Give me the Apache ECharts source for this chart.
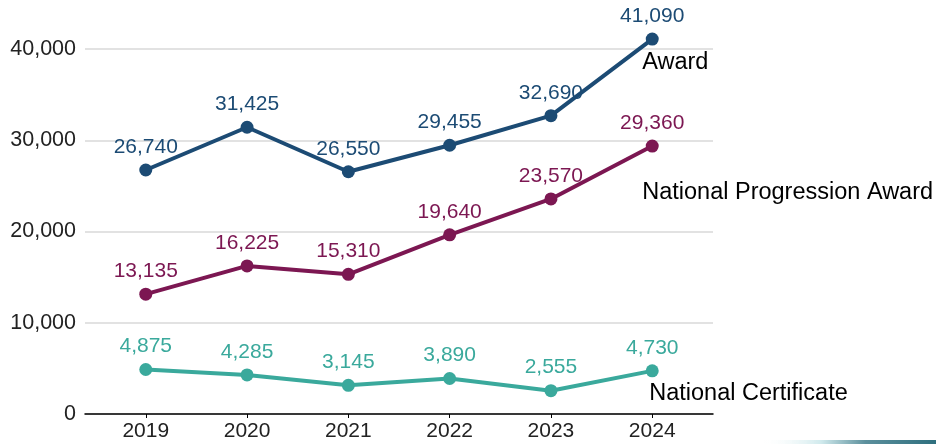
<!DOCTYPE html>
<html>
<head>
<meta charset="utf-8">
<script src="https://cdn.jsdelivr.net/npm/echarts@6/dist/echarts.min.js"></script>
<style>html,body{margin:0;padding:0;background:#fff}#c{width:936px;height:444px}</style>
</head>
<body>
<div id="c"></div>
<script>
const years = [2019, 2020, 2021, 2022, 2023, 2024];
const award = [26740, 31425, 26550, 29455, 32690, 41090];
const npa = [13135, 16225, 15310, 19640, 23570, 29360];
const nc = [4875, 4285, 3145, 3890, 2555, 4730];
const seriesNames = ['Award', 'National Progression Award', 'National Certificate'];
const colors = ['#1c4b74', '#7c1752', '#3aa99c'];
const yTicks = [0, 10000, 20000, 30000, 40000];

const font = 'Liberation Sans, Arial, sans-serif';
const fmt = v => v.toLocaleString('en-US');
const endOffsets = [[-10, 23], [-10, 46], [-3, 23]];

function mk(name, vals, i) {
  return {
    name: name,
    type: 'line',
    data: years.map((y, k) => [y, vals[k]]),
    clip: false,
    symbol: 'circle',
    symbolSize: 13,
    lineStyle: { width: 4, color: colors[i] },
    itemStyle: { color: colors[i] },
    label: {
      show: true, position: 'top', distance: 6,
      color: colors[i], fontSize: 21, fontFamily: font,
      formatter: p => fmt(p.value[1])
    },
    endLabel: {
      show: true, formatter: name, color: '#000', fontSize: 23.5, fontFamily: font,
      align: 'left', verticalAlign: 'middle', distance: 0,
      offset: endOffsets[i]
    }
  };
}

const chart = echarts.init(document.getElementById('c'));
chart.setOption({
  animation: false,
  grid: { left: 85, right: 223, top: 49, bottom: 30 },
  xAxis: {
    type: 'value', min: 2018.4, max: 2024.6,
    splitLine: { show: false },
    axisLine: { show: true, lineStyle: { color: '#000', width: 1.5 } },
    axisTick: { show: true, customValues: years, length: 4, lineStyle: { color: '#000' } },
    axisLabel: { customValues: years, color: '#222', fontSize: 21, fontFamily: font, margin: 7, formatter: v => String(v) }
  },
  yAxis: {
    type: 'value', min: 0, max: 40000, interval: 10000,
    axisLine: { show: false }, axisTick: { show: false },
    splitLine: { lineStyle: { color: '#d9d9d9', width: 1.5 } },
    axisLabel: { color: '#222', fontSize: 21.5, fontFamily: font, margin: 9, formatter: v => fmt(v) }
  },
  series: [mk(seriesNames[0], award, 0), mk(seriesNames[1], npa, 1), mk(seriesNames[2], nc, 2)],
  graphic: [{
    type: 'rect', left: 760, top: 440, shape: { width: 176, height: 4 },
    style: { fill: new echarts.graphic.LinearGradient(0, 0, 1, 0, [
      { offset: 0, color: 'rgba(255,255,255,0)' },
      { offset: 0.35, color: '#cfe9ec' },
      { offset: 0.6, color: '#5b8f9c' },
      { offset: 1, color: '#2e6f7e' }
    ]) }
  }]
});
</script>
</body>
</html>
